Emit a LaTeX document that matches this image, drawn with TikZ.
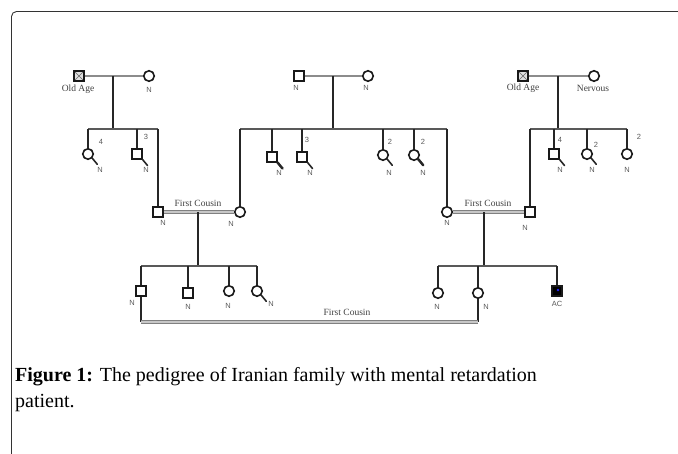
\documentclass[tikz,border=0pt]{standalone}
\usepackage{fontspec}
\setmainfont{Liberation Serif}
\setsansfont{Liberation Sans}
\usetikzlibrary{calc}

\begin{document}
\begin{tikzpicture}[x=1pt, y=-1pt,
    male/.style={rectangle, draw=black!90, line width=1.6pt, fill=white,
                 minimum size=9.5pt, inner sep=0pt},
    female/.style={circle, draw=black!90, line width=1.6pt, fill=white,
                   minimum size=10.5pt, inner sep=0pt},
    oldage/.style={male, fill=black!12, path picture={
        \draw[black!60, line width=0.6pt]
          (path picture bounding box.south west) -- (path picture bounding box.north east)
          (path picture bounding box.north west) -- (path picture bounding box.south east);}},
    affected/.style={male, fill=black, path picture={
        \fill[blue!85] ($(path picture bounding box.center)+(1,-1)$) circle (1.4pt);}},
    desc/.style={line width=1.7pt, black!85},
    sib/.style={line width=1.6pt, black!65},
    marry/.style={line width=1.6pt, black!45},
    cousin/.style={draw=black!50, double=black!22, double distance=1.4pt, line width=1.1pt},
    tailline/.style={line width=1.6pt, black!85, line cap=round},
    nlab/.style={font=\sffamily\fontsize{7.5}{8}\selectfont, text=black!65, inner sep=0pt},
    tlab/.style={font=\fontsize{9.5}{11}\selectfont, text=black!75, inner sep=0pt}
  ]
    \useasboundingbox (0,0) rectangle (678,454);

    % frame
    \draw[black!80, line width=0.9pt, rounded corners=5pt] (11.5,454) |- (678,11.5);

    % generation I
    \node[oldage] (gp1m) at (79,76) {};
    \node[female] (gp1f) at (149,76) {};
    \node[male] (gp2m) at (299,76) {};
    \node[female] (gp2f) at (368,76) {};
    \node[oldage] (gp3m) at (523,76) {};
    \node[female] (gp3f) at (594,76) {};

    \node[tlab] (lgp1m) at (78,89) {Old Age};
    \node[nlab] (lgp1f) at (149,90) {N};
    \node[nlab] (lgp2m) at (296,88) {N};
    \node[nlab] (lgp2f) at (366,88) {N};
    \node[tlab] (lgp3m) at (523,88) {Old Age};
    \node[tlab] (lgp3f) at (593,88) {Nervous};

    % generation II
    \node[female] (c1a) at (88,154) {};
    \node[male] (c1b) at (137,154) {};
    \node[male] (p1m) at (158,212) {};
    \node[female] (p1f) at (240,212) {};
    \node[male] (c2a) at (272,157) {};
    \node[male] (c2b) at (302,157) {};
    \node[female] (c2c) at (383,155) {};
    \node[female] (c2d) at (414,155) {};
    \node[female] (p2f) at (447,212) {};
    \node[male] (p2m) at (530,212) {};
    \node[male] (c3a) at (554,154) {};
    \node[female] (c3b) at (587,154) {};
    \node[female] (c3c) at (627,154) {};

    \node[nlab] (n1a) at (101,142) {4};
    \node[nlab] (n1b) at (146,137) {3};
    \node[nlab] (n2b) at (307,140) {3};
    \node[nlab] (n2c) at (390,142) {2};
    \node[nlab] (n2d) at (423,142) {2};
    \node[nlab] (n3a) at (560,140) {4};
    \node[nlab] (n3b) at (596,145) {2};
    \node[nlab] (n3c) at (639,137) {2};

    \node[nlab] (lc1a) at (100,170) {N};
    \node[nlab] (lc1b) at (146,170) {N};
    \node[nlab] (lp1m) at (163,223) {N};
    \node[nlab] (lp1f) at (231,224) {N};
    \node[nlab] (lc2a) at (279,173) {N};
    \node[nlab] (lc2b) at (310,173) {N};
    \node[nlab] (lc2c) at (389,173) {N};
    \node[nlab] (lc2d) at (423,173) {N};
    \node[nlab] (lp2f) at (447,223) {N};
    \node[nlab] (lp2m) at (525,228) {N};
    \node[nlab] (lc3a) at (560,170) {N};
    \node[nlab] (lc3b) at (592,170) {N};
    \node[nlab] (lc3c) at (627,170) {N};

    \node[tlab] (fc1) at (198,203) {First Cousin};
    \node[tlab] (fc2) at (488,203) {First Cousin};

    % generation III
    \node[male] (d1) at (141,291) {};
    \node[male] (d2) at (188,293) {};
    \node[female] (d3) at (229,291) {};
    \node[female] (d4) at (257,291) {};
    \node[female] (e1) at (438,293) {};
    \node[female] (e2) at (478,293) {};
    \node[affected] (e3) at (557,291) {};

    \node[nlab] (ld1) at (132,303) {N};
    \node[nlab] (ld2) at (188,307) {N};
    \node[nlab] (ld3) at (228,306) {N};
    \node[nlab] (ld4) at (271,304) {N};
    \node[nlab] (le1) at (437,307) {N};
    \node[nlab] (le2) at (486,307) {N};
    \node[nlab] (le3) at (557,304) {AC};
    \node[tlab] (fc3) at (347,312) {First Cousin};

    % sibship bars
    \coordinate (s1) at (113,129);
    \coordinate (s2) at (333,129);
    \coordinate (s3) at (558,129);
    \coordinate (s4) at (198,266);
    \coordinate (s5) at (484,266);
    \coordinate (cm) at (300,322);

    % marriages
    \draw[marry] (gp1m) -- (gp1f);
    \draw[marry] (gp2m) -- (gp2f);
    \draw[marry] (gp3m) -- (gp3f);
    \draw[cousin] (p1m) -- (p1f);
    \draw[cousin] (p2f) -- (p2m);

    % descent lines
    \draw[desc] (s1 |- gp1m) -- (s1);
    \draw[desc] (s2 |- gp2m) -- (s2);
    \draw[desc] (s3 |- gp3m) -- (s3);
    \draw[desc] (s4 |- p1m) -- (s4);
    \draw[desc] (s5 |- p2m) -- (s5);

    \draw[sib] (c1a |- s1) -- (p1m |- s1);
    \draw[sib] (p1f |- s2) -- (p2f |- s2);
    \draw[sib] (p2m |- s3) -- (c3c |- s3);
    \draw[sib] (d1 |- s4) -- (d4 |- s4);
    \draw[sib] (e1 |- s5) -- (e3 |- s5);

    \foreach \c/\s in {c1a/s1, c1b/s1, p1m/s1, p1f/s2, c2a/s2, c2b/s2, c2c/s2, c2d/s2, p2f/s2,
                       p2m/s3, c3a/s3, c3b/s3, c3c/s3, d1/s4, d2/s4, d3/s4, d4/s4,
                       e1/s5, e2/s5, e3/s5}
      \draw[desc] (\c |- \s) -- (\c);

    % cousin marriage of generation III
    \draw[desc] (d1) -- (d1 |- cm);
    \draw[desc] (e2) -- (e2 |- cm);
    \draw[cousin] (d1 |- cm) -- (e2 |- cm);

    % tails
    \foreach \c in {c1a, c1b, c2b, c2c, c3a, c3b, d4}
      \draw[tailline] (\c.south east) -- ++(5,6);
    \foreach \c in {c2a, c2d}
      \draw[tailline, line width=2.5pt] (\c.south east) -- ++(5,6);

    % caption
    \node[anchor=base west, inner sep=0pt, font=\fontsize{20}{26}\selectfont] (cap1) at (15,382)
      {\textbf{Figure 1:} The pedigree of Iranian family with mental retardation};
    \node[anchor=base west, inner sep=0pt, font=\fontsize{20}{26}\selectfont] (cap2) at (15,408)
      {patient.};
  \end{tikzpicture}
\end{document}
